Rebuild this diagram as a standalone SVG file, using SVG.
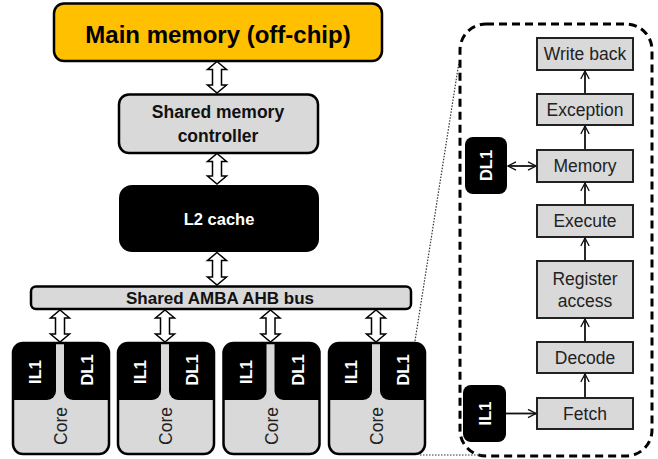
<svg xmlns="http://www.w3.org/2000/svg" width="658" height="459" viewBox="0 0 658 459">
<defs>
<style>
.b{font-family:"Liberation Sans",Arial,sans-serif;font-weight:bold;text-anchor:middle}
.r{font-family:"Liberation Sans",Arial,sans-serif;text-anchor:middle;fill:#222}
.box{fill:#D9D9D9;stroke:#000;stroke-width:2.5}
.pbox{fill:#D9D9D9;stroke:#222;stroke-width:2}
.barrow{fill:#fff;stroke:#000;stroke-width:1.5;stroke-linejoin:miter}
.blk{fill:#000}
.wt{fill:#fff;font-size:16.5px}
.line{stroke:#111;stroke-width:1.8;fill:none}
.dot{stroke:#333;stroke-width:1.2;stroke-dasharray:1.5 1.5;fill:none}
</style>
<marker id="oa" viewBox="0 0 10 10" refX="9" refY="5" markerWidth="10" markerHeight="10" markerUnits="userSpaceOnUse" orient="auto-start-reverse">
<path d="M1,0.8 L9,5 L1,9.2" fill="none" stroke="#111" stroke-width="1.3"/>
</marker>
</defs>
<rect width="658" height="459" fill="#fff"/>

<g id="main-memory">
<rect x="54" y="3.5" width="328" height="57.5" rx="10" fill="#FFC000" stroke="#000" stroke-width="2.5"/>
<text class="b" x="218" y="43" font-size="24" fill="#000">Main memory (off-chip)</text>
</g>

<g id="mem-controller">
<rect class="box" x="119" y="94.5" width="199" height="58.5" rx="10"/>
<text class="b" x="218" y="118" font-size="17.5" fill="#111">Shared memory</text>
<text class="b" x="218" y="142" font-size="17.5" fill="#111">controller</text>
</g>

<g id="l2-cache">
<rect x="119" y="185" width="200" height="67" rx="13" fill="#000"/>
<text class="b" x="219" y="225" font-size="16.5" fill="#fff">L2 cache</text>
</g>

<g id="amba-bus">
<rect class="box" x="31" y="286.5" width="380" height="22.5" rx="5"/>
<text class="b" x="220" y="304" font-size="17" fill="#111">Shared AMBA AHB bus</text>
</g>

<g id="core-1">
<rect x="13" y="343" width="96" height="111" rx="10" fill="#D9D9D9"/>
<path class="blk" d="M13,353 a10,10 0 0 1 10,-10 H56 V391 a9,9 0 0 1 -9,9 H13 Z"/>
<path class="blk" d="M64,343 H99 a10,10 0 0 1 10,10 V400 H73 a9,9 0 0 1 -9,-9 Z"/>
<rect x="13" y="343" width="96" height="111" rx="10" fill="none" stroke="#000" stroke-width="2.5"/>
<text class="b wt" transform="translate(35,372) rotate(-90)" dominant-baseline="central">IL1</text>
<text class="b wt" transform="translate(87,370) rotate(-90)" dominant-baseline="central">DL1</text>
<text class="r" transform="translate(61,426) rotate(-90)" dominant-baseline="central" font-size="17.5" fill="#333">Core</text>
</g>

<g id="core-2">
<rect x="118" y="343" width="96" height="111" rx="10" fill="#D9D9D9"/>
<path class="blk" d="M118,353 a10,10 0 0 1 10,-10 H161 V391 a9,9 0 0 1 -9,9 H118 Z"/>
<path class="blk" d="M169,343 H204 a10,10 0 0 1 10,10 V400 H178 a9,9 0 0 1 -9,-9 Z"/>
<rect x="118" y="343" width="96" height="111" rx="10" fill="none" stroke="#000" stroke-width="2.5"/>
<text class="b wt" transform="translate(140,372) rotate(-90)" dominant-baseline="central">IL1</text>
<text class="b wt" transform="translate(192,370) rotate(-90)" dominant-baseline="central">DL1</text>
<text class="r" transform="translate(166,426) rotate(-90)" dominant-baseline="central" font-size="17.5" fill="#333">Core</text>
</g>

<g id="core-3">
<rect x="223.5" y="343" width="96" height="111" rx="10" fill="#D9D9D9"/>
<path class="blk" d="M223.5,353 a10,10 0 0 1 10,-10 H266.5 V391 a9,9 0 0 1 -9,9 H223.5 Z"/>
<path class="blk" d="M274.5,343 H309.5 a10,10 0 0 1 10,10 V400 H283.5 a9,9 0 0 1 -9,-9 Z"/>
<rect x="223.5" y="343" width="96" height="111" rx="10" fill="none" stroke="#000" stroke-width="2.5"/>
<text class="b wt" transform="translate(245.5,372) rotate(-90)" dominant-baseline="central">IL1</text>
<text class="b wt" transform="translate(297.5,370) rotate(-90)" dominant-baseline="central">DL1</text>
<text class="r" transform="translate(271.5,426) rotate(-90)" dominant-baseline="central" font-size="17.5" fill="#333">Core</text>
</g>

<g id="core-4">
<rect x="329" y="343" width="96" height="111" rx="10" fill="#D9D9D9"/>
<path class="blk" d="M329,353 a10,10 0 0 1 10,-10 H372 V391 a9,9 0 0 1 -9,9 H329 Z"/>
<path class="blk" d="M380,343 H415 a10,10 0 0 1 10,10 V400 H389 a9,9 0 0 1 -9,-9 Z"/>
<rect x="329" y="343" width="96" height="111" rx="10" fill="none" stroke="#000" stroke-width="2.5"/>
<text class="b wt" transform="translate(351,372) rotate(-90)" dominant-baseline="central">IL1</text>
<text class="b wt" transform="translate(403,370) rotate(-90)" dominant-baseline="central">DL1</text>
<text class="r" transform="translate(377,426) rotate(-90)" dominant-baseline="central" font-size="17.5" fill="#333">Core</text>
</g>

<g id="pipeline-frame">
<rect x="460" y="24" width="192" height="432" rx="26" fill="none" stroke="#000" stroke-width="3" stroke-dasharray="8 5"/>
</g>

<g id="write-back">
<rect class="pbox" x="537" y="38" width="96" height="32"/>
<text class="r" x="585" y="60" font-size="17.5">Write back</text>
</g>
<g id="exception">
<rect class="pbox" x="537" y="94" width="96" height="31"/>
<text class="r" x="585" y="115.5" font-size="17.5">Exception</text>
</g>
<g id="memory">
<rect class="pbox" x="537" y="150" width="96" height="32"/>
<text class="r" x="585" y="172" font-size="17.5">Memory</text>
</g>
<g id="execute">
<rect class="pbox" x="537" y="205" width="96" height="32"/>
<text class="r" x="585" y="227" font-size="17.5">Execute</text>
</g>
<g id="register-access">
<rect class="pbox" x="537" y="261" width="96" height="57"/>
<text class="r" x="585" y="285" font-size="17.5">Register</text>
<text class="r" x="585" y="307" font-size="17.5">access</text>
</g>
<g id="decode">
<rect class="pbox" x="537" y="342" width="96" height="31"/>
<text class="r" x="585" y="363.5" font-size="17.5">Decode</text>
</g>
<g id="fetch">
<rect class="pbox" x="537" y="398" width="96" height="31"/>
<text class="r" x="585" y="419.5" font-size="17.5">Fetch</text>
</g>

<g id="dl1-side">
<rect x="465" y="137" width="42" height="57" rx="8" fill="#000"/>
<text class="b wt" transform="translate(486,165.5) rotate(-90)" dominant-baseline="central">DL1</text>
</g>
<g id="il1-side">
<rect x="463" y="385" width="43" height="57" rx="8" fill="#000"/>
<text class="b wt" transform="translate(484.5,413.5) rotate(-90)" dominant-baseline="central">IL1</text>
</g>

<g id="connectors">
<path class="barrow" d="M217,61.5 L226.5,69.5 L221.5,69.5 L221.5,85 L226.5,85 L217,93 L207.5,85 L212.5,85 L212.5,69.5 L207.5,69.5 Z"/>
<path class="barrow" d="M217,153.5 L226.5,161.5 L221.5,161.5 L221.5,176 L226.5,176 L217,184 L207.5,176 L212.5,176 L212.5,161.5 L207.5,161.5 Z"/>
<path class="barrow" d="M217,252.5 L226.5,260.5 L221.5,260.5 L221.5,277 L226.5,277 L217,285 L207.5,277 L212.5,277 L212.5,260.5 L207.5,260.5 Z"/>
<path class="barrow" d="M60,310 L69.5,318 L64.5,318 L64.5,334 L69.5,334 L60,342 L50.5,334 L55.5,334 L55.5,318 L50.5,318 Z"/>
<path class="barrow" d="M165,310 L174.5,318 L169.5,318 L169.5,334 L174.5,334 L165,342 L155.5,334 L160.5,334 L160.5,318 L155.5,318 Z"/>
<path class="barrow" d="M270.5,310 L280,318 L275,318 L275,334 L280,334 L270.5,342 L261,334 L266,334 L266,318 L261,318 Z"/>
<path class="barrow" d="M376,310 L385.5,318 L380.5,318 L380.5,334 L385.5,334 L376,342 L366.5,334 L371.5,334 L371.5,318 L366.5,318 Z"/>
<line class="line" x1="585" y1="397" x2="585" y2="374" marker-end="url(#oa)"/>
<line class="line" x1="585" y1="341" x2="585" y2="319" marker-end="url(#oa)"/>
<line class="line" x1="585" y1="260" x2="585" y2="238" marker-end="url(#oa)"/>
<line class="line" x1="585" y1="204" x2="585" y2="183" marker-end="url(#oa)"/>
<line class="line" x1="585" y1="149" x2="585" y2="126" marker-end="url(#oa)"/>
<line class="line" x1="585" y1="93" x2="585" y2="71" marker-end="url(#oa)"/>
<line class="line" x1="508" y1="166" x2="536" y2="166" marker-start="url(#oa)" marker-end="url(#oa)"/>
<line class="line" x1="506" y1="413.5" x2="536" y2="413.5" marker-end="url(#oa)"/>
<line class="dot" x1="415" y1="341" x2="459" y2="62"/>
<line class="dot" x1="420" y1="455" x2="484" y2="455"/>
</g>
</svg>
